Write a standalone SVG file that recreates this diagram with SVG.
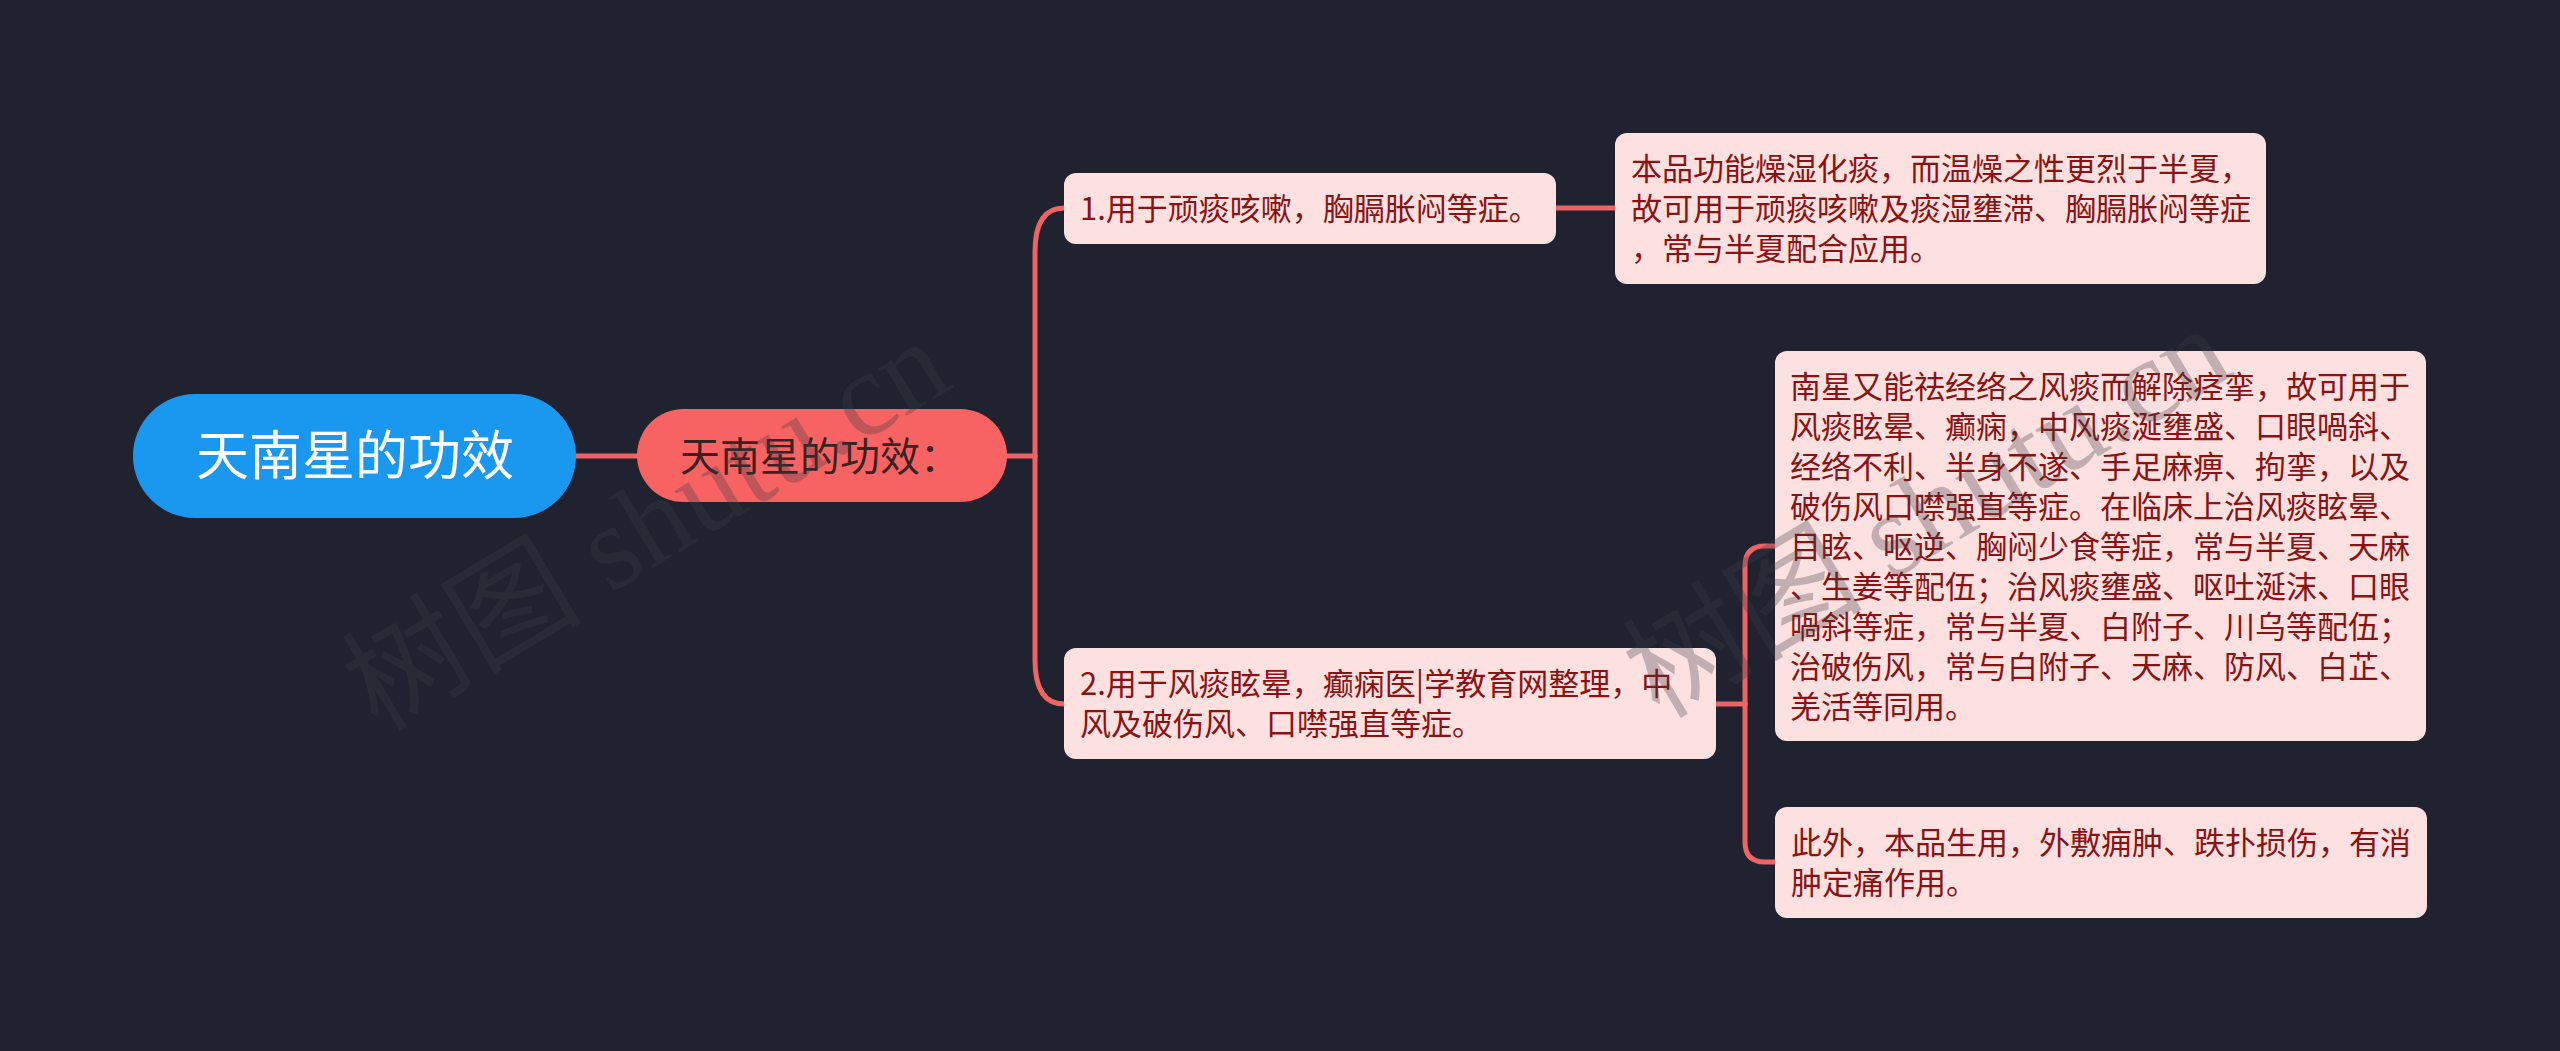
<svg xmlns="http://www.w3.org/2000/svg" width="2560" height="1051" viewBox="0 0 2560 1051">
<style>
.bg{fill:#20232f}
.conn{fill:none;stroke:#ee6464;stroke-width:5;stroke-linecap:round}
.leaf{fill:#fde1e1}
.lt{font-family:"Noto Sans CJK SC","Noto Sans",sans-serif;font-size:31px;fill:#8b1212}
.wm{font-family:"Liberation Serif","Noto Sans CJK SC",serif;font-size:120px;fill:#3c3c46;opacity:0.3}
</style>
<rect class="bg" x="0" y="0" width="2560" height="1051"/>
<g id="connectors">
<path class="conn" d="M576 456 H637"/>
<path class="conn" d="M1006 456 H1035"/>
<path class="conn" d="M1035 456 V252 Q1035 208 1064 208"/>
<path class="conn" d="M1035 456 V660 Q1035 704 1064 704"/>
<path class="conn" d="M1556 208 H1615"/>
<path class="conn" d="M1716 704 H1745"/>
<path class="conn" d="M1745 704 V566 Q1745 546 1765 546 H1775"/>
<path class="conn" d="M1745 704 V842 Q1745 862 1765 862 H1775"/>
</g>
<g id="root">
<rect x="133" y="394" width="443" height="124" rx="62" fill="#1a98f0"/>
<text x="355" y="475" text-anchor="middle" font-family="Noto Sans CJK SC, sans-serif" font-size="53" fill="#ffffff">天南星的功效</text>
</g>
<g id="main">
<rect x="637" y="409" width="370" height="93" rx="46.5" fill="#f76262"/>
<text x="680" y="471" font-family="Noto Sans CJK SC, sans-serif" font-size="40" fill="#3a2222">天南星的功效：</text>
</g>
<g id="n1">
<rect class="leaf" x="1064" y="173" width="492" height="71" rx="12"/>
<text class="lt" x="1080" y="220">1.用于顽痰咳嗽，胸膈胀闷等症。</text>
</g>
<g id="n1a">
<rect class="leaf" x="1615" y="133" width="651" height="151" rx="12"/>
<text class="lt" x="1631" y="180">本品功能燥湿化痰，而温燥之性更烈于半夏，</text>
<text class="lt" x="1631" y="220">故可用于顽痰咳嗽及痰湿壅滞、胸膈胀闷等症</text>
<text class="lt" x="1631" y="260">，常与半夏配合应用。</text>
</g>
<g id="n2">
<rect class="leaf" x="1064" y="648" width="652" height="111" rx="12"/>
<text class="lt" x="1080" y="695">2.用于风痰眩晕，癫痫医|学教育网整理，中</text>
<text class="lt" x="1080" y="735">风及破伤风、口噤强直等症。</text>
</g>
<g id="n2a">
<rect class="leaf" x="1775" y="351" width="651" height="390" rx="12"/>
<text class="lt" x="1790" y="398">南星又能祛经络之风痰而解除痉挛，故可用于</text>
<text class="lt" x="1790" y="438">风痰眩晕、癫痫，中风痰涎壅盛、口眼喎斜、</text>
<text class="lt" x="1790" y="478">经络不利、半身不遂、手足麻痹、拘挛，以及</text>
<text class="lt" x="1790" y="518">破伤风口噤强直等症。在临床上治风痰眩晕、</text>
<text class="lt" x="1790" y="558">目眩、呕逆、胸闷少食等症，常与半夏、天麻</text>
<text class="lt" x="1790" y="598">、生姜等配伍；治风痰壅盛、呕吐涎沫、口眼</text>
<text class="lt" x="1790" y="638">喎斜等症，常与半夏、白附子、川乌等配伍；</text>
<text class="lt" x="1790" y="678">治破伤风，常与白附子、天麻、防风、白芷、</text>
<text class="lt" x="1790" y="718">羌活等同用。</text>
</g>
<g id="n2b">
<rect class="leaf" x="1775" y="807" width="652" height="111" rx="12"/>
<text class="lt" x="1791" y="854">此外，本品生用，外敷痈肿、跌扑损伤，有消</text>
<text class="lt" x="1791" y="894">肿定痛作用。</text>
</g>
<g id="watermarks">
<text class="wm" x="646" y="525" text-anchor="middle" dominant-baseline="central" transform="rotate(-31 646 525)">树图 shutu.cn</text>
<text class="wm" x="1927" y="512" text-anchor="middle" dominant-baseline="central" transform="rotate(-31 1927 512)">树图 shutu.cn</text>
</g>
</svg>
